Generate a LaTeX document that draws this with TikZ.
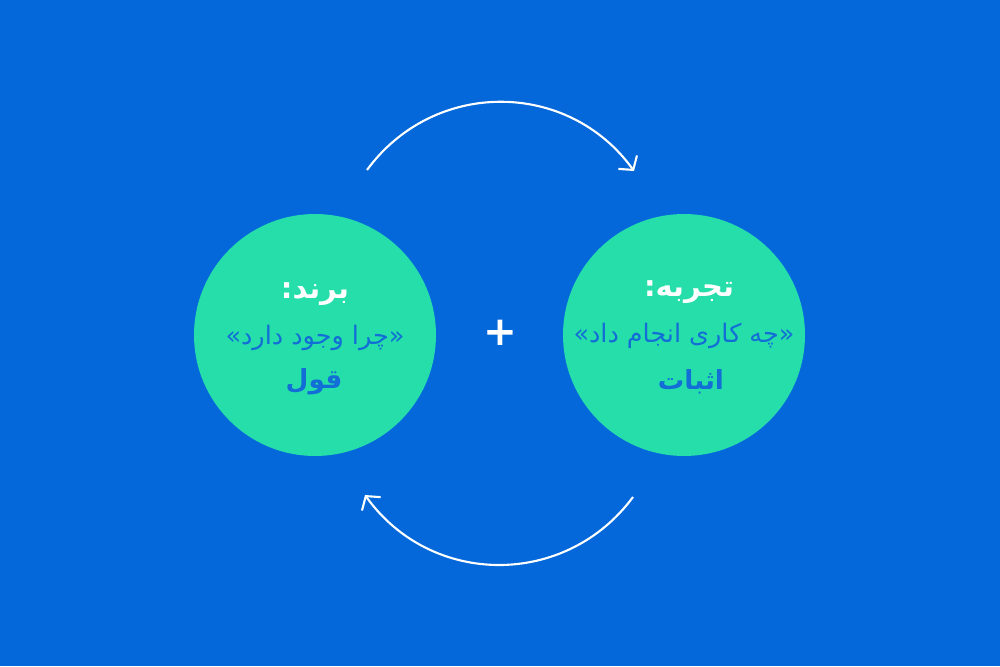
\documentclass[tikz,border=0pt]{standalone}
\usepackage{fontspec}
\usepackage{tikz}
\usetikzlibrary{arrows.meta, positioning}
\TeXXeTstate=1
\newfontfamily\fafont[Script=Arabic]{DejaVu Sans}
\definecolor{bgblue}{RGB}{4, 104, 218}
\definecolor{mint}{RGB}{38, 222, 170}
\definecolor{inkblue}{RGB}{18, 110, 214}
\tikzset{
  bubble/.style={circle, fill=mint, minimum size=4.84cm, inner sep=0pt},
  titletext/.style={font=\fafont\bfseries\fontsize{16.5}{20}\selectfont, text=white},
  whytext/.style={font=\fafont\fontsize{14.5}{17}\selectfont, text=inkblue},
  keytext/.style={font=\fafont\bfseries\fontsize{15}{18}\selectfont, text=inkblue},
  cycle/.style={draw=white, line width=1.2pt, -{Straight Barb[length=1.9mm, width=4.6mm]}}
}

\begin{document}
\begin{tikzpicture}[x=0.02cm, y=-0.02cm]
  % Background
  \useasboundingbox[fill=bgblue] (0, 0) rectangle (1000, 666);

  % Brand circle
  \node[bubble] (brand) at (315, 335) {};
  \node[titletext] (brandtitle) at (315, 294) {\beginR برند:\endR};
  \node[whytext] (brandwhy) at (315, 338) {»\beginR چرا وجود دارد\endR«};
  \node[keytext] (brandkey) at (314, 382) {\beginR قول\endR};

  % Experience circle
  \node[bubble] (exper) at (684, 335) {};
  \node[titletext] (expertitle) at (689, 292) {\beginR تجربه:\endR};
  \node[whytext] (experwhy) at (684, 336) {»\beginR چه کاری انجام داد\endR«};
  \node[keytext] (experkey) at (691, 382) {\beginR اثبات\endR};

  % Plus
  \node[font=\fafont\bfseries\fontsize{23}{26}\selectfont, text=white] (plus) at (500, 333) {+};

  % Cycle arrows
  \coordinate (topstart) at (367, 170);
  \coordinate (topend) at (634, 171);
  \coordinate (botstart) at (633, 497);
  \coordinate (botend) at (365, 495);
  \draw[cycle] (topstart) to[bend left=54, looseness=1.08] (topend);
  \draw[cycle] (botstart) to[bend left=54, looseness=1.08] (botend);
\end{tikzpicture}
\end{document}
